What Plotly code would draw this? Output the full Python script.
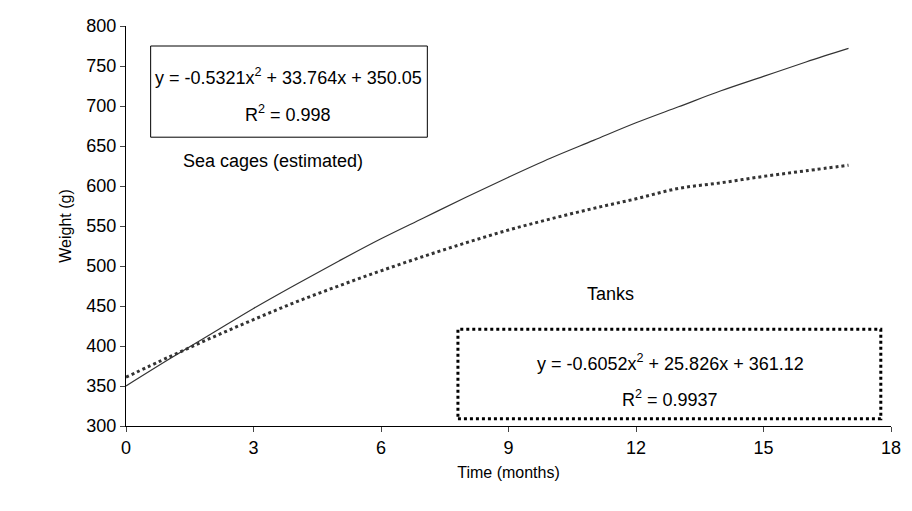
import plotly.graph_objects as go

months = list(range(0, 18))
sea_cages = [350, 383, 415, 447, 477, 506, 534, 560, 586, 611, 635, 657, 679, 699, 719, 737, 755, 772]
tanks = [361, 386, 410, 433, 455, 475, 494, 512, 529, 545, 559, 572, 584, 597, 604, 612, 619, 626]

F = "Liberation Sans, Arial, sans-serif"
fig = go.Figure()
fig.add_trace(go.Scatter(x=months, y=sea_cages, mode="lines", line=dict(color="#333", width=1.2), line_shape="spline"))
fig.add_trace(go.Scatter(x=months, y=tanks, mode="lines", line=dict(color="#333", width=3, dash="dot"), line_shape="spline"))

fig.add_shape(type="rect", x0=0.58, x1=7.09, y0=661, y1=775, line=dict(color="black", width=1))
fig.add_shape(type="rect", x0=7.81, x1=17.76, y0=309, y1=421, line=dict(color="black", width=3, dash="dot"))
ann = [
    (3.82, 737, "y = -0.5321x<sup>2</sup> + 33.764x + 350.05"),
    (3.82, 691, "R<sup>2</sup> = 0.998"),
    (3.45, 631, "Sea cages (estimated)"),
    (11.4, 465, "Tanks"),
    (12.8, 379, "y = -0.6052x<sup>2</sup> + 25.826x + 361.12"),
    (12.8, 335, "R<sup>2</sup> = 0.9937"),
]
for x, y, t in ann:
    fig.add_annotation(x=x, y=y, text=t, showarrow=False, font=dict(family=F, size=18, color="black"))

fig.update_layout(
    width=895, height=500, margin=dict(l=118, r=12, t=18, b=82),
    plot_bgcolor="white", paper_bgcolor="white", showlegend=False,
    font=dict(family=F, size=18, color="black"),
)
fig.update_xaxes(range=[0, 18], tickvals=list(range(0, 19, 3)), ticks="outside", ticklen=5,
                 showline=True, linecolor="black", showgrid=False, zeroline=False, automargin=False,
                 title=dict(text="Time (months)", font=dict(size=16), standoff=10))
fig.update_yaxes(range=[300, 800], tickvals=list(range(300, 801, 50)), ticks="outside", ticklen=5,
                 showline=True, linecolor="black", showgrid=False, zeroline=False, automargin=False,
                 title=dict(text="Weight (g)", font=dict(size=16), standoff=10))
fig.write_html("out.html")
